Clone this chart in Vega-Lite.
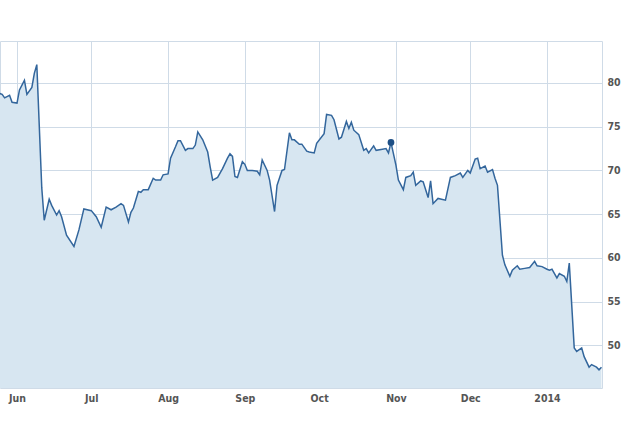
{
  "$schema": "https://vega.github.io/schema/vega-lite/v6.json",
  "width": 602,
  "height": 347,
  "autosize": {"type": "none"},
  "padding": {"left": 0, "top": 41, "right": 42, "bottom": 48},
  "background": "#ffffff",
  "config": {
    "view": {"stroke": "#cfdbe7", "strokeWidth": 1},
    "axis": {"labelFont": "'DejaVu Sans Condensed', 'DejaVu Sans'", "labelFontSize": 10.5, "labelFontWeight": "bold", "labelColor": "#555555", "gridColor": "#cfdbe7", "gridWidth": 1, "gridOpacity": 1, "domain": false, "ticks": false}
  },
  "data": {"values": [
    {"date": "2013-05-25", "price": 78.8},
    {"date": "2013-05-26", "price": 78.7},
    {"date": "2013-05-27", "price": 78.3},
    {"date": "2013-05-29", "price": 78.6},
    {"date": "2013-05-30", "price": 77.8},
    {"date": "2013-06-01", "price": 77.7},
    {"date": "2013-06-02", "price": 79.2},
    {"date": "2013-06-04", "price": 80.3},
    {"date": "2013-06-05", "price": 78.7},
    {"date": "2013-06-07", "price": 79.5},
    {"date": "2013-06-08", "price": 81.1},
    {"date": "2013-06-09", "price": 82.1},
    {"date": "2013-06-11", "price": 68.0},
    {"date": "2013-06-12", "price": 64.3},
    {"date": "2013-06-14", "price": 66.7},
    {"date": "2013-06-15", "price": 66.0},
    {"date": "2013-06-17", "price": 64.9},
    {"date": "2013-06-18", "price": 65.4},
    {"date": "2013-06-19", "price": 64.7},
    {"date": "2013-06-21", "price": 62.6},
    {"date": "2013-06-24", "price": 61.3},
    {"date": "2013-06-26", "price": 63.2},
    {"date": "2013-06-28", "price": 65.6},
    {"date": "2013-07-01", "price": 65.4},
    {"date": "2013-07-03", "price": 64.7},
    {"date": "2013-07-05", "price": 63.5},
    {"date": "2013-07-07", "price": 65.8},
    {"date": "2013-07-09", "price": 65.5},
    {"date": "2013-07-11", "price": 65.8},
    {"date": "2013-07-13", "price": 66.2},
    {"date": "2013-07-14", "price": 66.0},
    {"date": "2013-07-16", "price": 64.1},
    {"date": "2013-07-17", "price": 65.2},
    {"date": "2013-07-18", "price": 65.7},
    {"date": "2013-07-20", "price": 67.6},
    {"date": "2013-07-21", "price": 67.5},
    {"date": "2013-07-22", "price": 67.8},
    {"date": "2013-07-24", "price": 67.8},
    {"date": "2013-07-26", "price": 69.1},
    {"date": "2013-07-27", "price": 68.9},
    {"date": "2013-07-29", "price": 68.9},
    {"date": "2013-07-30", "price": 69.5},
    {"date": "2013-08-01", "price": 69.6},
    {"date": "2013-08-02", "price": 71.4},
    {"date": "2013-08-04", "price": 72.7},
    {"date": "2013-08-05", "price": 73.4},
    {"date": "2013-08-06", "price": 73.4},
    {"date": "2013-08-08", "price": 72.3},
    {"date": "2013-08-09", "price": 72.5},
    {"date": "2013-08-11", "price": 72.5},
    {"date": "2013-08-12", "price": 72.9},
    {"date": "2013-08-13", "price": 74.4},
    {"date": "2013-08-15", "price": 73.5},
    {"date": "2013-08-17", "price": 72.1},
    {"date": "2013-08-18", "price": 70.4},
    {"date": "2013-08-19", "price": 68.9},
    {"date": "2013-08-21", "price": 69.2},
    {"date": "2013-08-23", "price": 70.2},
    {"date": "2013-08-25", "price": 71.4},
    {"date": "2013-08-26", "price": 71.9},
    {"date": "2013-08-27", "price": 71.6},
    {"date": "2013-08-28", "price": 69.3},
    {"date": "2013-08-29", "price": 69.2},
    {"date": "2013-08-31", "price": 71.0},
    {"date": "2013-09-01", "price": 70.7},
    {"date": "2013-09-02", "price": 70.0},
    {"date": "2013-09-04", "price": 70.0},
    {"date": "2013-09-06", "price": 69.9},
    {"date": "2013-09-07", "price": 69.5},
    {"date": "2013-09-08", "price": 71.2},
    {"date": "2013-09-10", "price": 70.0},
    {"date": "2013-09-11", "price": 68.9},
    {"date": "2013-09-13", "price": 65.3},
    {"date": "2013-09-14", "price": 68.3},
    {"date": "2013-09-16", "price": 70.0},
    {"date": "2013-09-17", "price": 70.1},
    {"date": "2013-09-19", "price": 74.3},
    {"date": "2013-09-20", "price": 73.5},
    {"date": "2013-09-21", "price": 73.5},
    {"date": "2013-09-23", "price": 73.0},
    {"date": "2013-09-24", "price": 73.0},
    {"date": "2013-09-26", "price": 72.2},
    {"date": "2013-09-27", "price": 72.1},
    {"date": "2013-09-29", "price": 72.0},
    {"date": "2013-09-30", "price": 73.1},
    {"date": "2013-10-03", "price": 74.2},
    {"date": "2013-10-04", "price": 76.4},
    {"date": "2013-10-06", "price": 76.3},
    {"date": "2013-10-07", "price": 75.8},
    {"date": "2013-10-09", "price": 73.6},
    {"date": "2013-10-10", "price": 73.8},
    {"date": "2013-10-12", "price": 75.6},
    {"date": "2013-10-13", "price": 74.8},
    {"date": "2013-10-14", "price": 75.5},
    {"date": "2013-10-15", "price": 74.6},
    {"date": "2013-10-17", "price": 74.1},
    {"date": "2013-10-19", "price": 72.3},
    {"date": "2013-10-20", "price": 72.5},
    {"date": "2013-10-21", "price": 72.0},
    {"date": "2013-10-23", "price": 72.8},
    {"date": "2013-10-24", "price": 72.3},
    {"date": "2013-10-26", "price": 72.4},
    {"date": "2013-10-28", "price": 72.5},
    {"date": "2013-10-29", "price": 72.0},
    {"date": "2013-10-30", "price": 73.2},
    {"date": "2013-11-01", "price": 70.6},
    {"date": "2013-11-02", "price": 68.9},
    {"date": "2013-11-04", "price": 67.8},
    {"date": "2013-11-05", "price": 69.2},
    {"date": "2013-11-07", "price": 69.4},
    {"date": "2013-11-08", "price": 69.8},
    {"date": "2013-11-09", "price": 68.3},
    {"date": "2013-11-11", "price": 68.8},
    {"date": "2013-11-12", "price": 68.7},
    {"date": "2013-11-14", "price": 66.9},
    {"date": "2013-11-15", "price": 68.8},
    {"date": "2013-11-16", "price": 66.2},
    {"date": "2013-11-18", "price": 66.8},
    {"date": "2013-11-21", "price": 66.6},
    {"date": "2013-11-23", "price": 69.2},
    {"date": "2013-11-25", "price": 69.4},
    {"date": "2013-11-27", "price": 69.7},
    {"date": "2013-11-28", "price": 69.2},
    {"date": "2013-11-30", "price": 70.0},
    {"date": "2013-12-01", "price": 69.7},
    {"date": "2013-12-03", "price": 71.3},
    {"date": "2013-12-04", "price": 71.4},
    {"date": "2013-12-05", "price": 70.2},
    {"date": "2013-12-07", "price": 70.5},
    {"date": "2013-12-08", "price": 69.8},
    {"date": "2013-12-10", "price": 70.1},
    {"date": "2013-12-11", "price": 69.1},
    {"date": "2013-12-12", "price": 68.3},
    {"date": "2013-12-14", "price": 60.3},
    {"date": "2013-12-15", "price": 59.2},
    {"date": "2013-12-17", "price": 57.9},
    {"date": "2013-12-18", "price": 58.6},
    {"date": "2013-12-20", "price": 59.1},
    {"date": "2013-12-21", "price": 58.7},
    {"date": "2013-12-23", "price": 58.8},
    {"date": "2013-12-25", "price": 58.9},
    {"date": "2013-12-27", "price": 59.6},
    {"date": "2013-12-28", "price": 59.1},
    {"date": "2013-12-30", "price": 59.0},
    {"date": "2014-01-01", "price": 58.7},
    {"date": "2014-01-02", "price": 58.6},
    {"date": "2014-01-03", "price": 58.7},
    {"date": "2014-01-05", "price": 57.7},
    {"date": "2014-01-06", "price": 58.2},
    {"date": "2014-01-08", "price": 57.9},
    {"date": "2014-01-09", "price": 57.3},
    {"date": "2014-01-10", "price": 59.4},
    {"date": "2014-01-12", "price": 49.7},
    {"date": "2014-01-13", "price": 49.3},
    {"date": "2014-01-15", "price": 49.7},
    {"date": "2014-01-16", "price": 48.7},
    {"date": "2014-01-18", "price": 47.5},
    {"date": "2014-01-19", "price": 47.8},
    {"date": "2014-01-21", "price": 47.5},
    {"date": "2014-01-22", "price": 47.2},
    {"date": "2014-01-23", "price": 47.5}
  ]},
  "encoding": {
    "x": {
      "field": "date",
      "type": "temporal",
      "title": null,
      "scale": {
        "type": "utc",
        "domain": [
          {"year": 2013, "month": 5, "date": 25, "hours": 3, "minutes": 16, "utc": true},
          {"year": 2014, "month": 1, "date": 23, "hours": 5, "utc": true}
        ]
      },
      "axis": {
        "tickCount": "month",
        "grid": true,
        "labelPadding": 5,
        "labelFlush": false,
        "labelOverlap": false,
        "labelExpr": "utcFormat(datum.value, '%m') == '01' ? utcFormat(datum.value, '%Y') : utcFormat(datum.value, '%b')"
      }
    },
    "y": {
      "field": "price",
      "type": "quantitative",
      "title": null,
      "scale": {"domain": [45.12, 84.8], "zero": false, "nice": false},
      "axis": {"orient": "right", "values": [50, 55, 60, 65, 70, 75, 80], "grid": true, "labelPadding": 5, "labelAlign": "left"}
    }
  },
  "layer": [
    {
      "mark": {"type": "area", "clip": true, "color": "#d7e6f1", "opacity": 1, "line": {"color": "#33669c", "strokeWidth": 1.5}}
    },
    {
      "transform": [{"filter": "time(datum.date) == time(utc(2013, 9, 30))"}],
      "mark": {"type": "point", "filled": true, "color": "#1d4f86", "size": 45, "opacity": 1}
    }
  ]
}
